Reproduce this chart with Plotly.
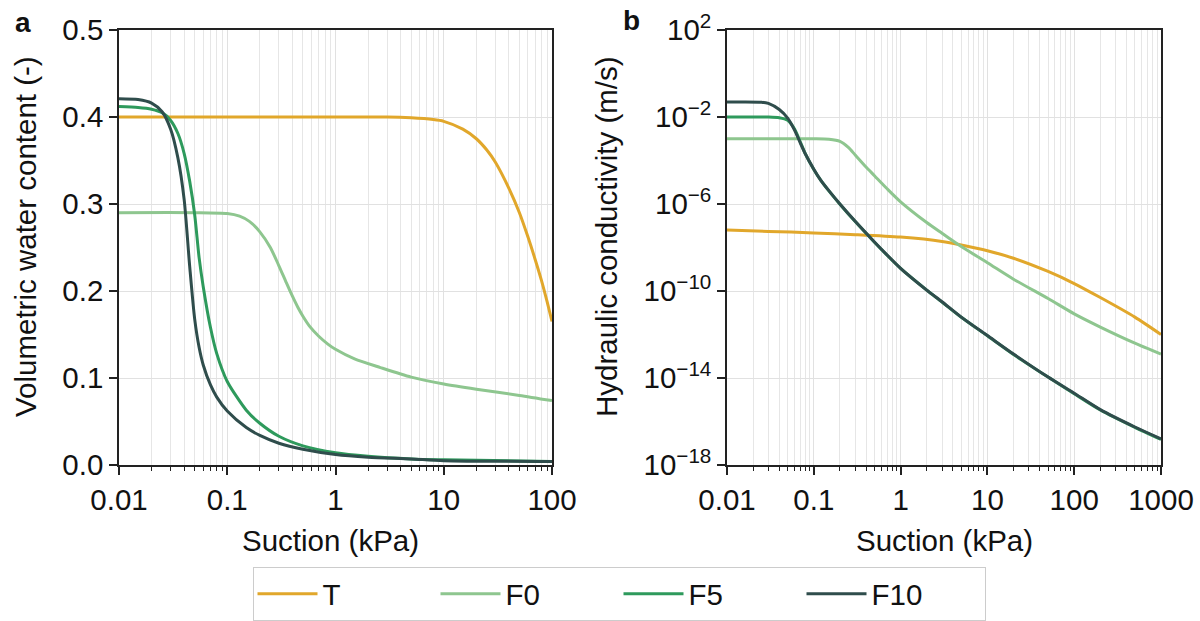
import plotly.graph_objects as go
from plotly.subplots import make_subplots

# ---------------- data ----------------
series_names = ["T", "F0", "F5", "F10"]
series_colors = ["#E1A72B", "#8EC68F", "#2E9A5C", "#2F4D4C"]

# Panel a: volumetric water content (-) vs suction (kPa)
suction_T_a = [0.01, 0.1, 1, 3, 5, 8, 10, 15, 20, 25, 30, 40, 50, 60, 70, 80, 90, 100]
theta_T = [0.400, 0.400, 0.400, 0.400, 0.399, 0.397, 0.395, 0.386, 0.375, 0.362, 0.348, 0.318, 0.290,
           0.262, 0.236, 0.212, 0.188, 0.165]

suction_F0_a = [0.01, 0.05, 0.1, 0.13, 0.16, 0.2, 0.25, 0.3, 0.35, 0.4, 0.45, 0.5, 0.58, 0.7, 0.85, 1,
                1.5, 2.6, 5, 10, 20, 50, 100]
theta_F0 = [0.290, 0.290, 0.289, 0.286, 0.280, 0.268, 0.250, 0.229, 0.210, 0.194, 0.181, 0.171, 0.159,
            0.148, 0.139, 0.133, 0.122, 0.112, 0.101, 0.093, 0.087, 0.080, 0.074]

suction_F5_a = [0.01, 0.015, 0.02, 0.025, 0.03, 0.035, 0.04, 0.045, 0.05, 0.055, 0.06, 0.07, 0.08, 0.1,
                0.15, 0.2, 0.3, 0.5, 1, 2, 5, 10, 100]
theta_F5 = [0.412, 0.411, 0.409, 0.405, 0.396, 0.381, 0.358, 0.326, 0.288, 0.238, 0.205, 0.158, 0.128, 0.096,
            0.063, 0.048, 0.033, 0.022, 0.014, 0.010, 0.007, 0.006, 0.004]

suction_F10_a = [0.01, 0.015, 0.02, 0.025, 0.03, 0.035, 0.04, 0.045, 0.05, 0.055, 0.06, 0.07, 0.08, 0.1,
                 0.15, 0.2, 0.3, 0.5, 1, 2, 5, 10, 100]
theta_F10 = [0.421, 0.420, 0.416, 0.406, 0.386, 0.353, 0.305, 0.228, 0.168, 0.135, 0.115, 0.092, 0.078, 0.062,
             0.043, 0.034, 0.025, 0.018, 0.012, 0.009, 0.007, 0.005, 0.004]

# Panel b: hydraulic conductivity (m/s) vs suction (kPa)
suction_T_b = [0.01, 0.03, 0.1, 0.3, 1, 3, 5, 10, 20, 50, 100, 200, 500, 1000]
K_T = [6.3e-8, 5.5e-8, 4.7e-8, 3.9e-8, 3.0e-8, 1.9e-8, 1.3e-8, 7.1e-9, 3.2e-9, 7.9e-10, 2.2e-10, 5.0e-11,
       6.3e-12, 1.0e-12]

suction_F0_b = [0.01, 0.1, 0.15, 0.2, 0.25, 0.3, 0.4, 0.5, 0.7, 1, 2, 3, 5, 10, 20, 50, 100, 200, 500, 1000]
K_F0 = [1.0e-3, 1.0e-3, 9.5e-4, 7.6e-4, 4.0e-4, 1.8e-4, 5.0e-5, 2.0e-5, 5.0e-6, 1.26e-6, 1.4e-7, 4.5e-8,
        1.1e-8, 2.0e-9, 3.5e-10, 4.5e-11, 8.9e-12, 2.2e-12, 4.0e-13, 1.26e-13]

suction_F5_b = [0.01, 0.03, 0.04, 0.05, 0.06, 0.07, 0.08, 0.1, 0.12, 0.15, 0.2, 0.3, 0.5, 0.7, 1, 2, 3, 5,
                10, 20, 50, 100, 200, 500, 1000]
K_F5 = [1.0e-2, 1.0e-2, 9.3e-3, 7.1e-3, 2.8e-3, 7.1e-4, 2.0e-4, 3.9e-5, 1.25e-5, 3.9e-6, 9.8e-7, 1.55e-7,
        1.75e-8, 4.4e-9, 1.1e-9, 1.1e-10, 3.1e-11, 6.2e-12, 8.7e-13, 1.2e-13, 1.1e-14, 1.9e-15, 3.4e-16,
        5.4e-17, 1.5e-17]

suction_F10_b = [0.01, 0.025, 0.03, 0.04, 0.05, 0.06, 0.07, 0.08, 0.1, 0.12, 0.15, 0.2, 0.3, 0.5, 0.7, 1, 2,
                 3, 5, 10, 20, 50, 100, 200, 500, 1000]
K_F10 = [4.9e-2, 4.8e-2, 4.2e-2, 2.2e-2, 8.9e-3, 2.5e-3, 6.3e-4, 2.0e-4, 4.0e-5, 1.26e-5, 4.0e-6, 1.0e-6,
         1.6e-7, 1.8e-8, 4.5e-9, 1.1e-9, 1.1e-10, 3.2e-11, 6.3e-12, 8.9e-13, 1.26e-13, 1.1e-14, 2.0e-15,
         3.5e-16, 5.6e-17, 1.6e-17]

xa_tickvals = [0.01, 0.1, 1, 10, 100]
xa_ticktext = ["0.01", "0.1", "1", "10", "100"]
xb_tickvals = [0.01, 0.1, 1, 10, 100, 1000]
xb_ticktext = ["0.01", "0.1", "1", "10", "100", "1000"]
ya_tickvals = [0.0, 0.1, 0.2, 0.3, 0.4, 0.5]
yb_exponents = [2, -2, -6, -10, -14, -18]

# ---------------- figure ----------------
FONT = "Liberation Sans, Arial, sans-serif"
TXT = "#111111"
fig = make_subplots(rows=1, cols=2)

panel_a = [(suction_T_a, theta_T), (suction_F0_a, theta_F0), (suction_F5_a, theta_F5), (suction_F10_a, theta_F10)]
panel_b = [(suction_T_b, K_T), (suction_F0_b, K_F0), (suction_F5_b, K_F5), (suction_F10_b, K_F10)]

for name, color, (xs, ys) in zip(series_names, series_colors, panel_a):
    fig.add_trace(go.Scatter(x=xs, y=ys, mode="lines", name=name, legendgroup=name,
                             line=dict(color=color, width=3, shape="spline", smoothing=0.7)),
                  row=1, col=1)
for name, color, (xs, ys) in zip(series_names, series_colors, panel_b):
    fig.add_trace(go.Scatter(x=xs, y=ys, mode="lines", name=name, legendgroup=name, showlegend=False,
                             line=dict(color=color, width=3, shape="spline", smoothing=0.7)),
                  row=1, col=2)

W, H = 1200, 621
def px_x(p):
    return p / W
def px_y(p):
    return 1 - p / H

axis_common = dict(showline=True, linecolor="#222222", linewidth=1.5, mirror=True,
                   ticks="outside", ticklen=8, tickwidth=1.5, tickcolor="#222222",
                   gridcolor="#E1E1E1", gridwidth=1, zeroline=False,
                   tickfont=dict(family=FONT, size=29.5, color=TXT), automargin=False)

minor_x = dict(dtick="D1", showgrid=True, gridcolor="#E6E6E6", gridwidth=1,
               ticks="outside", ticklen=4, tickwidth=1, tickcolor="#222222")

fig.update_xaxes(type="log", range=[-2, 2], tickmode="array", tickvals=xa_tickvals, ticktext=xa_ticktext,
                 domain=[px_x(119), px_x(552)], minor=minor_x, **axis_common, row=1, col=1)
fig.update_xaxes(type="log", range=[-2, 3], tickmode="array", tickvals=xb_tickvals, ticktext=xb_ticktext,
                 domain=[px_x(727), px_x(1161)], minor=minor_x, **axis_common, row=1, col=2)
fig.update_yaxes(range=[0, 0.5], tickmode="array", tickvals=ya_tickvals,
                 ticktext=[f"{v:.1f}" for v in ya_tickvals],
                 domain=[px_y(465), px_y(30)], **axis_common, row=1, col=1)
fig.update_yaxes(type="log", range=[-18, 2], tickmode="array",
                 tickvals=[10.0 ** e for e in yb_exponents],
                 ticktext=["10<sup>" + str(e).replace("-", "\u2212") + "</sup>" for e in yb_exponents],
                 domain=[px_y(465), px_y(30)], **axis_common, row=1, col=2)

ann_font = dict(family=FONT, size=29.5, color=TXT)
annotations = [
    dict(text="Suction (kPa)", x=px_x(330), y=px_y(540), xref="paper", yref="paper",
         showarrow=False, font=ann_font, xanchor="center", yanchor="middle"),
    dict(text="Suction (kPa)", x=px_x(944), y=px_y(540), xref="paper", yref="paper",
         showarrow=False, font=ann_font, xanchor="center", yanchor="middle"),
    dict(text="Volumetric water content (-)", x=px_x(26), y=px_y(237), xref="paper", yref="paper",
         showarrow=False, font=ann_font, textangle=-90, xanchor="center", yanchor="middle"),
    dict(text="Hydraulic conductivity (m/s)", x=px_x(607), y=px_y(237), xref="paper", yref="paper",
         showarrow=False, font=ann_font, textangle=-90, xanchor="center", yanchor="middle"),
    dict(text="<b>a</b>", x=px_x(23), y=px_y(22), xref="paper", yref="paper",
         showarrow=False, font=dict(family=FONT, size=28, color=TXT), xanchor="center", yanchor="middle"),
    dict(text="<b>b</b>", x=px_x(632), y=px_y(20), xref="paper", yref="paper",
         showarrow=False, font=dict(family=FONT, size=28, color=TXT), xanchor="center", yanchor="middle"),
]

fig.update_layout(
    width=W, height=H,
    margin=dict(l=0, r=0, t=0, b=0),
    paper_bgcolor="white", plot_bgcolor="white",
    font=dict(family=FONT, size=29.5, color=TXT),
    annotations=annotations,
    showlegend=True,
    legend=dict(orientation="h", x=px_x(619), xanchor="center", y=px_y(567), yanchor="top",
                bordercolor="#CCCCCC", borderwidth=1, bgcolor="white",
                font=dict(family=FONT, size=29.5, color=TXT),
                entrywidth=108, entrywidthmode="pixels", itemwidth=60),
)

fig.write_html("out.html")
